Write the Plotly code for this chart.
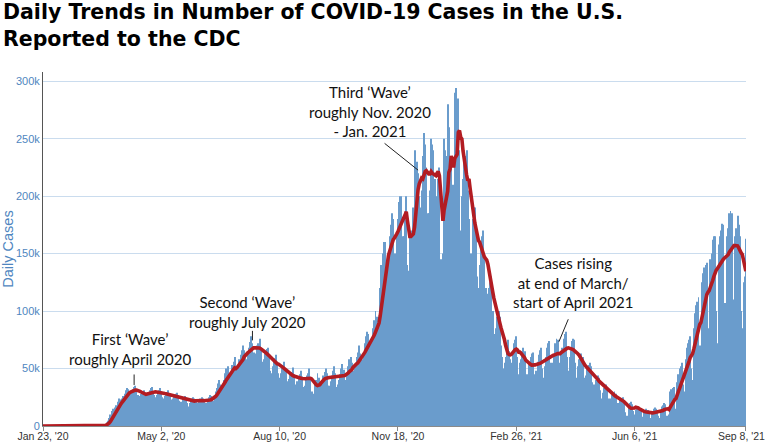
import pandas as pd
import plotly.graph_objects as go

# ---------------- data ----------------
start_date = "2020-01-23"
end_date = "2021-09-08"

# daily reported cases, thousands (Jan 23 2020 .. Dec 31 2020)
daily_cases_2020_k = [
    0, 0, 0, 0,
    0, 0, 0, 0, 0, 0, 0,
    0, 0, 0, 0, 0, 0, 0,
    0, 0, 0, 0, 0, 0, 0,
    0, 0, 0, 0, 0, 0, 0,
    0, 0, 0, 0, 0, 0, 0,
    0.02, 0.03, 0.05, 0.06, 0.09, 0.1, 0.12,
    0.15, 0.2, 0.3, 0.4, 0.6, 0.7, 0.9,
    1.8, 3, 4.5, 7, 10, 13, 15,
    14, 16, 18, 21, 24, 23, 20,
    24, 26, 28, 31, 33, 32, 28,
    28, 30, 32, 34, 35, 32, 27,
    25, 26, 28, 30, 31, 28, 25,
    27, 28, 31, 33, 34, 30, 27,
    25, 27, 29, 31, 33, 30, 25,
    24, 26, 28, 29, 31, 28, 23,
    22, 24, 26, 28, 29, 27, 22,
    20, 21, 24, 25, 26, 24, 20,
    17, 20, 22, 24, 25, 24, 22,
    18, 20, 22, 24, 25, 24, 21,
    18, 20, 23, 25, 27, 26, 25,
    22, 26, 30, 33, 37, 40, 36,
    33, 36, 40, 46, 50, 52, 44,
    42, 47, 53, 56, 60, 48, 50,
    50, 58, 62, 66, 70, 66, 60,
    58, 63, 68, 73, 78, 72, 64,
    58, 63, 70, 72, 76, 68, 56,
    54, 58, 64, 67, 68, 62, 48,
    46, 52, 56, 59, 62, 56, 46,
    42, 46, 51, 53, 56, 49, 39,
    36, 41, 45, 47, 51, 45, 36,
    35, 39, 43, 45, 48, 43, 34,
    35, 40, 44, 46, 50, 42, 30,
    24, 28, 37, 40, 46, 42, 35,
    34, 38, 44, 47, 50, 46, 35,
    35, 39, 44, 48, 52, 46, 34,
    36, 40, 45, 50, 54, 49, 34,
    40, 44, 52, 58, 60, 55, 48,
    45, 52, 60, 64, 70, 63, 59,
    58, 62, 72, 78, 82, 80, 72,
    68, 75, 85, 92, 100, 95, 85,
    95, 120, 140, 150, 160, 160, 140,
    140, 150, 165, 175, 185, 180, 150,
    150, 165, 180, 195, 200, 200, 165,
    165, 180, 200, 140, 135, 170, 165,
    170, 190, 240, 225, 230, 220, 200,
    190, 205, 235, 255, 245, 225, 185,
    185, 205, 250, 245, 240, 215, 185,
    200, 215, 225, 145, 130, 150, 250,
    240, 235, 280, 260,
]

# daily reported cases, thousands (Jan 1 2021 .. Sep 8 2021)
daily_cases_2021_k = [
    150, 230, 210,
    210, 290, 294, 270, 285, 240, 170,
    200, 215, 230, 235, 240, 205, 180,
    140, 150, 180, 190, 190, 170, 130,
    120, 140, 155, 165, 170, 150, 120,
    110, 115, 120, 125, 130, 100, 80,
    75, 85, 95, 100, 95, 70, 60,
    50, 55, 60, 70, 75, 65, 58,
    55, 65, 72, 75, 78, 60, 45,
    55, 58, 65, 68, 65, 45, 38,
    45, 55, 60, 63, 64, 45, 40,
    48, 56, 62, 66, 68, 50, 42,
    52, 60, 68, 72, 74, 55, 46,
    55, 62, 72, 76, 75, 55, 46,
    62, 68, 76, 80, 82, 60, 48,
    60, 66, 74, 76, 75, 55, 42,
    52, 58, 60, 63, 60, 42, 35,
    44, 50, 53, 55, 52, 38, 30,
    36, 40, 43, 44, 42, 31, 24,
    29, 33, 35, 36, 34, 24, 19,
    24, 27, 29, 30, 28, 20, 17,
    20, 23, 24, 25, 20, 12, 9,
    9, 17, 20, 21, 19, 13, 10,
    14, 16, 17, 16, 14, 8, 6,
    12, 14, 15, 14, 12, 7, 6,
    12, 15, 16, 15, 14, 9, 7,
    14, 17, 18, 20, 19, 9, 8,
    10, 30, 32, 33, 34, 15, 14,
    38, 45, 50, 52, 55, 36, 30,
    58, 68, 72, 75, 78, 50, 40,
    85, 98, 105, 108, 112, 70, 52,
    125, 133, 138, 140, 142, 85, 62,
    145, 150, 162, 165, 165, 100, 72,
    158, 165, 170, 176, 175, 107, 78,
    165, 172, 185, 187, 185, 110, 95,
    165, 172, 183, 175, 165, 100, 85,
    125, 130, 163,
]

tick_dates = ["2020-01-23", "2020-05-02", "2020-08-10", "2020-11-18",
              "2021-02-26", "2021-06-06", "2021-09-08"]
tick_labels = ["Jan 23, '20", "May 2, '20", "Aug 10, '20", "Nov 18, '20",
               "Feb 26, '21", "Jun 6, '21", "Sep 8, '21"]
y_tick_values = [0, 50000, 100000, 150000, 200000, 250000, 300000]
y_tick_labels = ["0", "50k", "100k", "150k", "200k", "250k", "300k"]

title_lines = ["Daily Trends in Number of COVID-19 Cases in the U.S.",
               "Reported to the CDC"]
note_texts = [
    "First \u2018Wave\u2019<br>roughly April 2020",
    "Second \u2018Wave\u2019<br>roughly July 2020",
    "Third \u2018Wave\u2019<br>roughly Nov. 2020<br>- Jan. 2021",
    "Cases rising<br>at end of March/<br>start of April 2021",
]

# ---------------- figure ----------------
dates = pd.date_range(start_date, end_date, freq="D")
cases = pd.Series([v * 1000 for v in daily_cases_2020_k + daily_cases_2021_k], index=dates)
avg7 = cases.rolling(7, min_periods=1).mean()

BLUE_TXT = "#4f86c0"
TICK_FONT = dict(family="Liberation Sans", size=10.5, color="#333")
fig = go.Figure()
fig.add_trace(go.Bar(x=dates, y=cases.values, marker=dict(color="#6a9ccc", line=dict(width=0)),
                     hoverinfo="skip"))
fig.add_trace(go.Scatter(x=dates, y=avg7.values, mode="lines",
                         line=dict(color="#b21c22", width=3.6), hoverinfo="skip"))

ann_font = dict(family="Lato", size=15, color="#111")
notes = [
    ("2020-04-06", 67000),
    ("2020-07-14", 99500),
    ("2020-10-25", 274000),
    ("2021-04-15", 124500),
]
pointers = [
    ("2020-04-09", 35700, 0, -12),
    ("2020-07-18", 74500, 0, -11),
    ("2020-12-05", 222600, -35, -28),
    ("2021-04-03", 73300, 10, -24),
]
annotations = []
PLOT_H, PLOT_W, TOP, LEFT = 354.0, 703.0, 72.0, 43.0
for i, line in enumerate(title_lines):
    annotations.append(dict(x=(1 - LEFT) / PLOT_W, y=(PLOT_H + TOP + 2 - 27.5 * i) / PLOT_H,
                            xref="paper", yref="paper", xanchor="left", yanchor="top",
                            text=line, showarrow=False, align="left",
                            font=dict(family="DejaVu Sans", size=20.5, color="#000", weight=700)))
for (x, y), t in zip(notes, note_texts):
    annotations.append(dict(x=x, y=y, xref="x", yref="y", text=t, showarrow=False,
                            font=ann_font, xanchor="center", yanchor="middle", align="center"))
for x, y, ax, ay in pointers:
    annotations.append(dict(x=x, y=y, xref="x", yref="y", text="", showarrow=True,
                            arrowhead=0, arrowwidth=1, arrowcolor="#222", ax=ax, ay=ay,
                            standoff=0, startstandoff=0))
# last tick label sits at the right page edge: right-anchored so it stays inside the page
annotations.append(dict(x=(767 - LEFT) / PLOT_W, y=-9.5 / PLOT_H, xref="paper", yref="paper",
                        xanchor="right", yanchor="middle", text=tick_labels[-1],
                        showarrow=False, font=TICK_FONT))
axis_tick_text = tick_labels[:-1] + [""]

fig.update_layout(
    width=768, height=442,
    margin=dict(l=43, r=22, t=72, b=16, autoexpand=False),
    paper_bgcolor="white", plot_bgcolor="white",
    showlegend=False, bargap=0.2,
    annotations=annotations,
    xaxis=dict(range=[start_date, end_date + " 03:00"], tickvals=tick_dates, ticktext=axis_tick_text,
               showgrid=False, showline=True, linecolor="#8a8a8a", linewidth=1,
               ticks="outside", ticklen=4, tickcolor="#8a8a8a",
               tickfont=TICK_FONT,
               ticklabelstandoff=-4, ticklabeloverflow="allow",
               automargin=False, zeroline=False),
    yaxis=dict(range=[0, 308000], tickvals=y_tick_values, ticktext=y_tick_labels,
               showgrid=True, gridcolor="#cadcee", gridwidth=1,
               showline=True, linecolor="#555", linewidth=1,
               ticks="", tickfont=dict(family="Liberation Sans", size=11, color=BLUE_TXT),
               title=dict(text="Daily Cases", font=dict(family="Liberation Sans", size=14.5, color=BLUE_TXT),
                          standoff=4),
               automargin=False, zeroline=False),
)

fig.write_html("out.html")
